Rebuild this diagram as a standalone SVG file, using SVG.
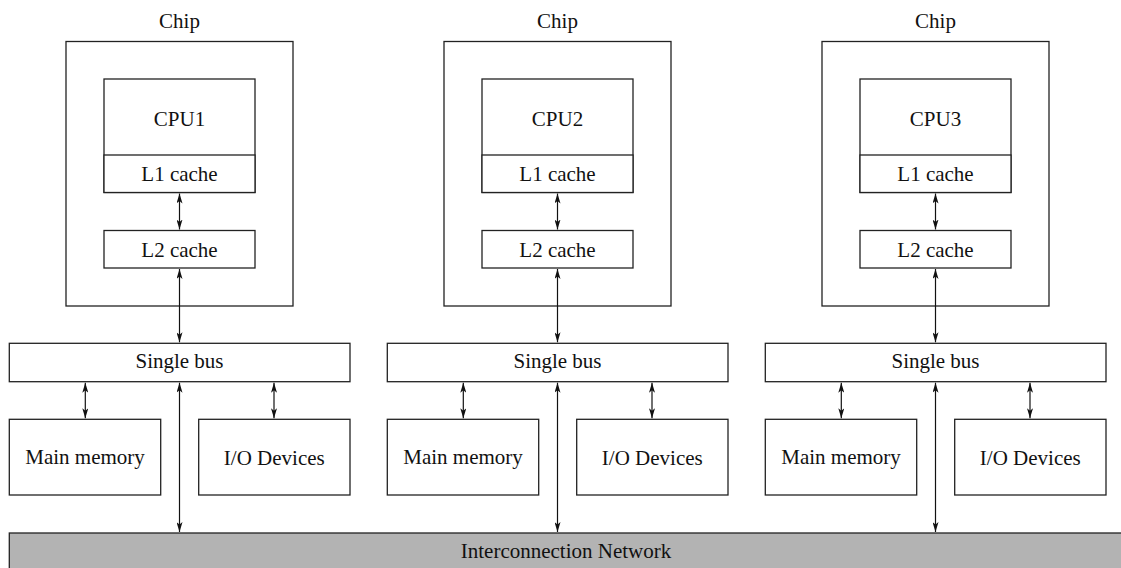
<svg xmlns="http://www.w3.org/2000/svg" width="1121" height="568" viewBox="0 0 1121 568">
<style>
.box{fill:#fff;stroke:#222;stroke-width:1.3}
.net{fill:#b3b3b3;stroke:#222;stroke-width:1.3}
.t{font-family:"Liberation Serif","Times New Roman",serif;font-size:21px;fill:#111;text-anchor:middle}
.c{stroke:#111;stroke-width:1.2;fill:none;marker-start:url(#a);marker-end:url(#a)}
</style>
<defs>
<marker id="a" viewBox="0 0 10 6" refX="10" refY="3" markerWidth="10" markerHeight="6" markerUnits="userSpaceOnUse" orient="auto-start-reverse">
<path d="M0,0 L10,3 L0,6 L2.5,3 Z" fill="#111"/>
</marker>
</defs>
<g id="network"><rect class="net" x="9.3" y="533" width="1130" height="60"/><text class="t" x="566" y="558">Interconnection Network</text></g>
<g id="panel1">
<g id="chip1"><rect class="box" x="66" y="41.5" width="227" height="264.5"/><text class="t" x="179.5" y="28">Chip</text></g>
<g id="cpu1"><rect class="box" x="104" y="79" width="151" height="113.5"/><text class="t" x="179.5" y="126">CPU1</text></g>
<g id="l1c1"><rect class="box" x="104" y="155" width="151" height="37.5"/><text class="t" x="179.5" y="181">L1 cache</text></g>
<g id="l2c1"><rect class="box" x="104" y="230.5" width="151" height="37.5"/><text class="t" x="179.5" y="257">L2 cache</text></g>
<g id="bus1"><rect class="box" x="9.3" y="343.3" width="340.7" height="38.4"/><text class="t" x="179.5" y="368">Single bus</text></g>
<g id="mem1"><rect class="box" x="9.3" y="419.3" width="151.4" height="75.7"/><text class="t" x="85" y="464">Main memory</text></g>
<g id="io1"><rect class="box" x="198.7" y="419.3" width="151.3" height="75.7"/><text class="t" x="274.3" y="465">I/O Devices</text></g>
</g>
<g id="panel2">
<g id="chip2"><rect class="box" x="444" y="41.5" width="227" height="264.5"/><text class="t" x="557.5" y="28">Chip</text></g>
<g id="cpu2"><rect class="box" x="482" y="79" width="151" height="113.5"/><text class="t" x="557.5" y="126">CPU2</text></g>
<g id="l1c2"><rect class="box" x="482" y="155" width="151" height="37.5"/><text class="t" x="557.5" y="181">L1 cache</text></g>
<g id="l2c2"><rect class="box" x="482" y="230.5" width="151" height="37.5"/><text class="t" x="557.5" y="257">L2 cache</text></g>
<g id="bus2"><rect class="box" x="387.3" y="343.3" width="340.7" height="38.4"/><text class="t" x="557.5" y="368">Single bus</text></g>
<g id="mem2"><rect class="box" x="387.3" y="419.3" width="151.4" height="75.7"/><text class="t" x="463" y="464">Main memory</text></g>
<g id="io2"><rect class="box" x="576.7" y="419.3" width="151.3" height="75.7"/><text class="t" x="652.3" y="465">I/O Devices</text></g>
</g>
<g id="panel3">
<g id="chip3"><rect class="box" x="822" y="41.5" width="227" height="264.5"/><text class="t" x="935.5" y="28">Chip</text></g>
<g id="cpu3"><rect class="box" x="860" y="79" width="151" height="113.5"/><text class="t" x="935.5" y="126">CPU3</text></g>
<g id="l1c3"><rect class="box" x="860" y="155" width="151" height="37.5"/><text class="t" x="935.5" y="181">L1 cache</text></g>
<g id="l2c3"><rect class="box" x="860" y="230.5" width="151" height="37.5"/><text class="t" x="935.5" y="257">L2 cache</text></g>
<g id="bus3"><rect class="box" x="765.3" y="343.3" width="340.7" height="38.4"/><text class="t" x="935.5" y="368">Single bus</text></g>
<g id="mem3"><rect class="box" x="765.3" y="419.3" width="151.4" height="75.7"/><text class="t" x="841" y="464">Main memory</text></g>
<g id="io3"><rect class="box" x="954.7" y="419.3" width="151.3" height="75.7"/><text class="t" x="1030.3" y="465">I/O Devices</text></g>
</g>
<g id="connectors">
<path class="c" d="M179.5,193.5 V229.5"/>
<path class="c" d="M179.5,269 V342.3"/>
<path class="c" d="M85.3,382.7 V418.3"/>
<path class="c" d="M274,382.7 V418.3"/>
<path class="c" d="M179.5,382.7 V532"/>
<path class="c" d="M557.5,193.5 V229.5"/>
<path class="c" d="M557.5,269 V342.3"/>
<path class="c" d="M463.3,382.7 V418.3"/>
<path class="c" d="M652,382.7 V418.3"/>
<path class="c" d="M557.5,382.7 V532"/>
<path class="c" d="M935.5,193.5 V229.5"/>
<path class="c" d="M935.5,269 V342.3"/>
<path class="c" d="M841.3,382.7 V418.3"/>
<path class="c" d="M1030,382.7 V418.3"/>
<path class="c" d="M935.5,382.7 V532"/>
</g>
</svg>
